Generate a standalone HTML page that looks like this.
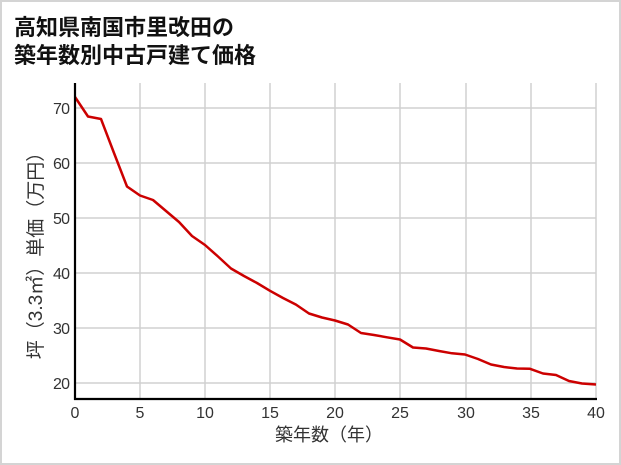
<!DOCTYPE html>
<html><head><meta charset="utf-8"><style>
html,body{margin:0;padding:0;background:#fff}
.wrap{position:relative;width:621px;height:465px;box-sizing:border-box;border:2px solid #d4d4d4;overflow:hidden}
.t{position:absolute;left:12px;font:bold 22px "Liberation Sans","Noto Sans CJK JP",sans-serif;color:#111;letter-spacing:0px}
</style></head><body><div class="wrap">
<div class="t" style="top:8px">高知県南国市里改田の</div>
<div class="t" style="top:36px">築年数別中古戸建て価格</div>
<svg width="621" height="465" style="position:absolute;left:-2px;top:-2px" font-family="'Liberation Sans','Noto Sans CJK JP',sans-serif">
<g stroke="#d0d0d0" stroke-width="1.5">
<line x1="140" y1="83" x2="140" y2="399"/><line x1="205" y1="83" x2="205" y2="399"/><line x1="270" y1="83" x2="270" y2="399"/><line x1="335" y1="83" x2="335" y2="399"/><line x1="400" y1="83" x2="400" y2="399"/><line x1="466" y1="83" x2="466" y2="399"/><line x1="531" y1="83" x2="531" y2="399"/><line x1="596" y1="83" x2="596" y2="399"/>
<line x1="75" y1="383" x2="596" y2="383"/><line x1="75" y1="328" x2="596" y2="328"/><line x1="75" y1="273" x2="596" y2="273"/><line x1="75" y1="218" x2="596" y2="218"/><line x1="75" y1="163" x2="596" y2="163"/><line x1="75" y1="108" x2="596" y2="108"/>
</g>
<polyline fill="none" stroke="#cc0000" stroke-width="2.5" stroke-linejoin="round" points="75,97 88,116.5 101,119 114,153 127,186.5 140,195.5 153,200 166,211 179,222 192,236 205,245 218,256.5 231,268.5 244,276 257,283 270,290.8 283,298 296,304.6 309,313.5 322,317.5 335,320.5 348,324.5 361,333 374,335 387,337.3 400,339.5 413,347.5 426,348.5 439,351 452,353.3 465,354.5 478,359 491,364.5 504,367 517,368.5 530,368.8 543,373.5 556,375 569,381 582,383.5 596,384.5"/>
<line x1="75" y1="83" x2="75" y2="400" stroke="#000" stroke-width="2.2"/>
<line x1="74" y1="399" x2="597" y2="399" stroke="#000" stroke-width="2.2"/>
<g font-size="16" fill="#333" text-anchor="end">
<text x="70" y="389" textLength="17">20</text><text x="70" y="334" textLength="17">30</text><text x="70" y="279" textLength="17">40</text><text x="70" y="224" textLength="17">50</text><text x="70" y="169" textLength="17">60</text><text x="70" y="114" textLength="17">70</text>
</g>
<g font-size="16" fill="#333" text-anchor="middle">
<text x="75" y="418">0</text><text x="140" y="418">5</text><text x="205" y="418">10</text><text x="270" y="418">15</text><text x="335" y="418">20</text><text x="400" y="418">25</text><text x="466" y="418">30</text><text x="531" y="418">35</text><text x="596" y="418">40</text>
<text x="329" y="441" font-size="18">築年数（年）</text>
<text transform="translate(42,251) rotate(-90)" font-size="19">坪（3.3㎡）単価（万円）</text>
</g>
</svg>
</div></body></html>
